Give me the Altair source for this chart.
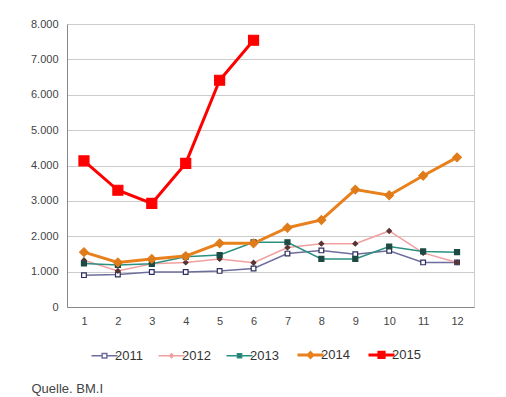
import altair as alt
import pandas as pd

months = list(range(1, 13))
years = ["2011", "2012", "2013", "2014", "2015"]
y2011 = [900, 920, 990, 990, 1020, 1090, 1510, 1600, 1490, 1590, 1260, 1260]
y2012 = [1320, 1020, 1220, 1260, 1360, 1250, 1680, 1790, 1790, 2150, 1530, 1260]
y2013 = [1230, 1190, 1220, 1420, 1470, 1830, 1830, 1360, 1360, 1710, 1570, 1550]
y2014 = [1550, 1260, 1360, 1440, 1800, 1800, 2240, 2460, 3320, 3160, 3710, 4230]
y2015 = [4130, 3300, 2930, 4060, 6410, 7540]

line_colors = ["#6e6e9e", "#f0a0a0", "#2b9080", "#e8801c", "#ff0000"]
line_widths = [1.5, 1.5, 1.5, 3, 3]
marker_shapes = ["square", "diamond", "square", "diamond", "square"]
marker_fill = ["#ffffff", "#5a3434", "#1e4a44", "#e07b1a", "#ff0000"]
marker_stroke = ["#2e2e5e", "#5a3434", "#1e4a44", "#e07b1a", "#ff0000"]
marker_size = [22, 22, 25, 75, 100]

rows = []
for yr, vals in zip(years, [y2011, y2012, y2013, y2014, y2015]):
    for m, v in zip(months, vals):
        rows.append({"Monat": m, "Jahr": yr, "Wert": v})
df = pd.DataFrame(rows)

x_enc = alt.X("Monat:O", title=None,
              axis=alt.Axis(labelAngle=0, ticks=False, grid=False, domainColor="#888888",
                            labelColor="#444444", labelFontSize=11, labelPadding=8,
                            labelFont="Liberation Sans"))
y_enc = alt.Y("Wert:Q", title=None,
              scale=alt.Scale(domain=[0, 8000]),
              axis=alt.Axis(values=[0, 1000, 2000, 3000, 4000, 5000, 6000, 7000, 8000],
                            labelExpr="replace(format(datum.value, ','), ',', '.')",
                            ticks=False, gridColor="#cccccc", domainColor="#888888",
                            labelColor="#444444", labelFontSize=11, labelPadding=9,
                            labelFont="Liberation Sans"))

sym_expr = ("datum.value == '2011' ? 'M-1,0H-0.18M0.18,0H1M-0.18,-0.18H0.18V0.18H-0.18Z' : "
            "datum.value == '2012' ? 'M-1,0H1M0,-0.15L0.15,0L0,0.15L-0.15,0Z' : "
            "datum.value == '2013' ? 'M-1,0H1M-0.16,-0.16H0.16V0.16H-0.16Z' : "
            "datum.value == '2014' ? 'M-1,0H1M0,-0.18L0.18,0L0,0.18L-0.18,0Z' : "
            "'M-1,0H1M-0.2,-0.2H0.2V0.2H-0.2Z'")
fill_expr = ("datum.value == '2011' ? '#ffffff' : datum.value == '2012' ? '#b07070' : "
             "datum.value == '2013' ? '#1e4a44' : datum.value == '2014' ? '#e07b1a' : '#ff0000'")
sw_expr = "datum.value == '2014' || datum.value == '2015' ? 3 : 1.5"

lines = alt.Chart(df).mark_line().encode(
    x=x_enc, y=y_enc,
    color=alt.Color("Jahr:N", scale=alt.Scale(domain=years, range=line_colors),
                    legend=alt.Legend(orient="none", legendX=31, legendY=324, direction="horizontal",
                                      title=None, symbolSize=676,
                                      symbolType=alt.ExprRef(expr=sym_expr),
                                      symbolFillColor=alt.ExprRef(expr=fill_expr),
                                      symbolStrokeWidth=alt.ExprRef(expr=sw_expr),
                                      labelFontSize=13, labelColor="#333333",
                                      labelFont="Liberation Sans", labelOffset=4,
                                      columnPadding=12)),
    strokeWidth=alt.StrokeWidth("Jahr:N", scale=alt.Scale(type="ordinal", domain=years, range=line_widths), legend=None),
    detail="Jahr:N",
)

points = alt.Chart(df).mark_point(filled=False, strokeWidth=1.2, opacity=1).encode(
    x=x_enc, y=y_enc,
    shape=alt.Shape("Jahr:N", scale=alt.Scale(domain=years, range=marker_shapes), legend=None),
    fill=alt.Fill("Jahr:N", scale=alt.Scale(domain=years, range=marker_fill), legend=None),
    stroke=alt.Stroke("Jahr:N", scale=alt.Scale(domain=years, range=marker_stroke), legend=None),
    size=alt.Size("Jahr:N", scale=alt.Scale(type="ordinal", domain=years, range=marker_size), legend=None),
)

chart = alt.layer(lines, points).resolve_scale(
    color="independent", fill="independent", stroke="independent"
).properties(
    width=407, height=283,
    autosize=alt.AutoSizeParams(type="none"),
    padding={"left": 59, "top": 16, "right": 24, "bottom": 90},
    background="#ffffff",
    title=alt.TitleParams("Quelle. BM.I", orient="bottom", anchor="start", dx=1, offset=19,
                          fontSize=13, fontWeight="normal", color="#444444",
                          font="Liberation Sans"),
).configure_view(stroke="#cccccc")

chart.save("out.html", embed_options={"renderer": "svg", "actions": False})
